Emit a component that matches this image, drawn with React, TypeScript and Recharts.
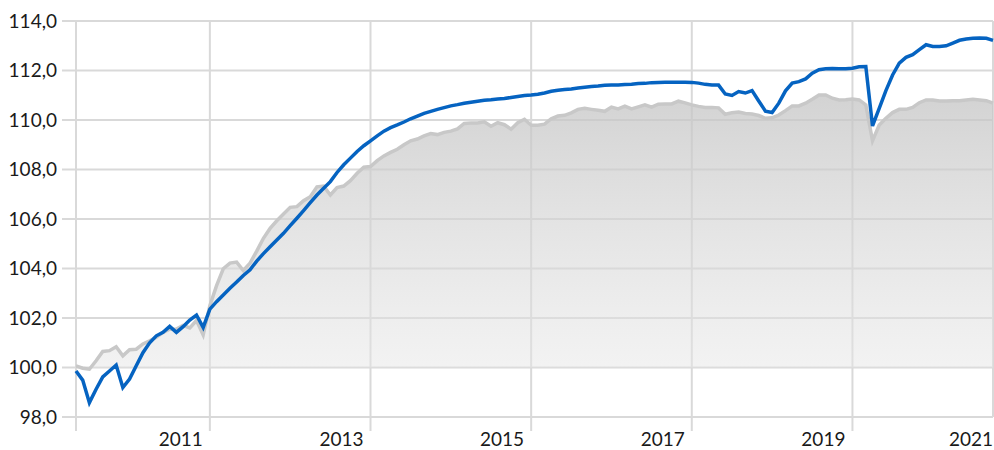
import { ComposedChart, Area, Line, XAxis, YAxis, CartesianGrid } from 'recharts'

// monthly, May 2009 .. Oct 2020 (index 0 = May 2009)
const BLUE = [
  99.86, 99.49, 98.58, 99.12, 99.62, 99.86, 100.1, 99.19, 99.53, 100.07,
  100.6, 101.0, 101.28, 101.42, 101.66, 101.42, 101.65, 101.92, 102.12, 101.62,
  102.36, 102.66, 102.93, 103.2, 103.45, 103.72, 103.95, 104.3, 104.6, 104.88,
  105.15, 105.42, 105.73, 106.03, 106.34, 106.66, 106.97, 107.24, 107.51, 107.88,
  108.19, 108.46, 108.73, 108.96, 109.16, 109.36, 109.55, 109.69, 109.8, 109.92,
  110.05, 110.16, 110.27, 110.35, 110.43, 110.5, 110.57, 110.62, 110.68, 110.72,
  110.76, 110.8, 110.82, 110.85, 110.87, 110.91, 110.95, 110.99, 111.01, 111.04,
  111.09, 111.16, 111.2, 111.23, 111.25, 111.29, 111.32, 111.35, 111.37, 111.4,
  111.41, 111.41, 111.43, 111.44, 111.47, 111.48, 111.51, 111.52, 111.53, 111.53,
  111.53, 111.53, 111.52, 111.49, 111.44, 111.41, 111.41, 111.05, 110.99, 111.15,
  111.09, 111.19, 110.77, 110.36, 110.3, 110.68, 111.18, 111.49, 111.55, 111.66,
  111.89, 112.03, 112.07, 112.08, 112.07, 112.07, 112.09, 112.15, 112.16, 109.76,
  110.47, 111.19, 111.82, 112.3, 112.53, 112.64, 112.84, 113.04, 112.97, 112.97,
  113.0, 113.11, 113.22, 113.27, 113.3, 113.31, 113.3, 113.22,
]

const GREY = [
  100.07, 99.97, 99.93, 100.27, 100.65, 100.68, 100.84, 100.47, 100.72, 100.74,
  100.95, 101.08, 101.22, 101.42, 101.55, 101.55, 101.7, 101.6, 101.9, 101.32,
  102.5, 103.31, 103.99, 104.22, 104.26, 103.92, 104.22, 104.7, 105.22, 105.62,
  105.93, 106.2, 106.47, 106.5, 106.74, 106.9, 107.3, 107.33, 106.97, 107.27,
  107.33, 107.55, 107.85, 108.09, 108.12, 108.36, 108.55, 108.69, 108.82, 109.0,
  109.16, 109.23, 109.36, 109.45, 109.41, 109.5, 109.55, 109.64, 109.86, 109.88,
  109.88, 109.93, 109.75, 109.89, 109.81, 109.63, 109.89, 110.03, 109.79, 109.79,
  109.83, 110.05, 110.16, 110.19, 110.29, 110.43, 110.47, 110.43, 110.39, 110.35,
  110.52, 110.45, 110.56, 110.45, 110.53, 110.61, 110.52, 110.64, 110.65, 110.65,
  110.76, 110.69, 110.61, 110.55, 110.51, 110.51, 110.49, 110.23, 110.29, 110.32,
  110.26, 110.24, 110.18, 110.07, 110.09, 110.2, 110.38, 110.57, 110.57, 110.68,
  110.84, 111.01, 111.01, 110.88, 110.81, 110.82, 110.85, 110.81, 110.61, 109.16,
  109.8, 110.07, 110.3, 110.43, 110.43, 110.51, 110.7, 110.81, 110.81, 110.77,
  110.77, 110.78, 110.78, 110.81, 110.84, 110.81, 110.78, 110.68,
]

// january positions (month index) and their labels
const X_TICKS = [0, 20, 44, 68, 92, 116, 140]
const X_LABELS = ['', '2011', '2013', '2015', '2017', '2019', '2021']
const Y_TICKS = [98, 100, 102, 104, 106, 108, 110, 112, 114]

const data = BLUE.map((b, i) => ({ i, blue: b, grey: GREY[i] }))

const FONT = 'Lato, "Open Sans", sans-serif'
const GRID = '#d9d9d9'

function YearTick({ x, y, payload }: any) {
  const label = X_LABELS[X_TICKS.indexOf(payload.value)]
  if (!label) return null
  return (
    <text x={Math.min(x - 7, 993)} y={y} dy={13} textAnchor="end" fontFamily={FONT} fontSize={19} fill="#1a1a1a">
      {label}
    </text>
  )
}

export default function App() {
  return (
    <div style={{ position: 'absolute', left: 0, top: 0, width: 994, height: 450, overflow: 'hidden' }}>
      <ComposedChart width={994} height={450} data={data} margin={{ top: 21, right: 1, left: 0, bottom: 0 }}>
        <defs>
          <linearGradient id="greyFill" x1="0" y1="0" x2="0" y2="1">
            <stop offset="0%" stopColor="#c4c4c4" stopOpacity={0.75} />
            <stop offset="100%" stopColor="#e6e6e6" stopOpacity={0.5} />
          </linearGradient>
        </defs>
        <CartesianGrid stroke={GRID} strokeWidth={2} />
        <XAxis
          dataKey="i" type="number" domain={[0, 137]} ticks={X_TICKS} interval={0}
          height={33} tickSize={14} tickLine={{ stroke: GRID, strokeWidth: 2 }}
          axisLine={{ stroke: GRID, strokeWidth: 2 }} tick={<YearTick />}
        />
        <YAxis
          domain={[98, 114]} ticks={Y_TICKS} width={76} tickSize={14} tickMargin={5}
          tickLine={{ stroke: GRID, strokeWidth: 2 }} axisLine={false}
          tickFormatter={(v: number) => v.toFixed(1).replace('.', ',')}
          tick={{ fontFamily: FONT, fontSize: 19, fill: '#1a1a1a' }}
        />
        <Area
          dataKey="grey" type="linear" baseValue={100} stroke="#c8c8c8" strokeWidth={3.5}
          fill="url(#greyFill)" fillOpacity={1} isAnimationActive={false}
        />
        <Line dataKey="blue" type="linear" stroke="#0563c1" strokeWidth={3.5} dot={false} isAnimationActive={false} />
      </ComposedChart>
    </div>
  )
}
